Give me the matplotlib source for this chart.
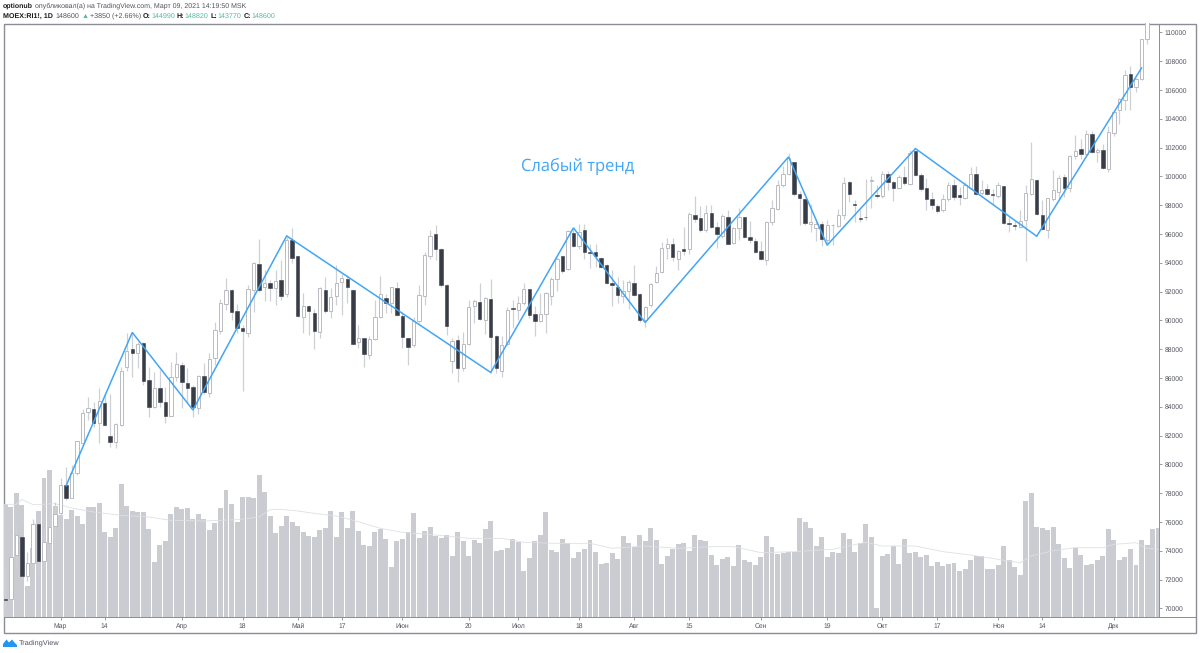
import matplotlib
matplotlib.use('Agg')
import matplotlib.pyplot as plt
from matplotlib.lines import Line2D
from matplotlib.patches import Polygon, Rectangle

# Daily candles, one bar per list entry
opens = [70650, 70630, 73710, 74980, 72270, 73130, 75860, 73310, 74520, 75720,
         76640, 78540, 77640, 79420, 81460, 83610, 83810, 82840, 84280, 81990,
         81570, 82730, 86730, 88000, 87750, 88440, 85850, 83950, 85270, 84350,
         83380, 86080, 86890, 85620, 85340, 83880, 86130, 84920, 87350, 89270,
         91100, 92140, 90660, 89500, 89140, 92100, 93880, 92330, 92600, 92210,
         92790, 91860, 95570, 94480, 90250, 90990, 90480, 89210, 92100, 90640,
         91680, 92630, 92900, 92140, 88510, 88740, 87590, 88670, 90200, 91520,
         91220, 92210, 90290, 88790, 88280, 89970, 91700, 94460, 95960, 94920,
         92440, 87190, 88630, 86660, 88350, 91010, 91290, 90010, 91500, 88930,
         86500, 88330, 90870, 90750, 91170, 92190, 90410, 89920, 90410, 91700,
         92860, 94460, 93530, 96070, 95150, 96260, 94730, 94760, 94360, 93810,
         92580, 92330, 91680, 92030, 92600, 91800, 90010, 91060, 92630, 93370,
         95030, 95310, 94290, 94920, 94940, 97280, 97090, 96260, 97420, 96490,
         95870, 97190, 95400, 96440, 97140, 95800, 95540, 94830, 94220, 96840,
         97760, 99430, 100190, 101000, 98740, 98410, 96720, 96380, 96680, 95610,
         96600, 96540, 97300, 99590, 98060, 97090, 97190, 99680, 98670, 98640,
         100150, 99610, 99170, 99940, 99500, 101770, 100120, 99220, 98390, 97930,
         97650, 98390, 99380, 98690, 98500, 99220, 100150, 98870, 99100, 98800,
         98640, 99310, 96730, 96650, 96490, 97000, 98800, 99710, 97300, 96260,
         98410, 98920, 99920, 99200, 101420, 101930, 101530, 102970, 101700, 101810,
         100540, 103020, 104630, 105330, 107090, 106210, 106790, 109560, 111500, 112500]
highs = [72780, 73940, 75790, 74980, 73940, 76180, 76000, 75490, 77180, 77400,
         79030, 79840, 79950, 81620, 83810, 84650, 84350, 85270, 84920, 84880,
         82840, 86780, 89090, 89090, 88500, 88500, 86780, 86430, 86540, 85390,
         87120, 87820, 87120, 86700, 85500, 86200, 87010, 87700, 89900, 91500,
         92950, 92200, 91120, 89670, 92440, 94060, 95640, 93480, 92790, 93480,
         94180, 95800, 96440, 94500, 91910, 91060, 90820, 92280, 92980, 92210,
         93830, 93250, 93140, 92200, 89670, 88800, 88900, 91400, 93110, 91860,
         92330, 92670, 90590, 88800, 90250, 92440, 94760, 96260, 96610, 95000,
         92500, 88740, 88970, 89210, 91400, 91500, 92600, 91630, 92860, 89000,
         88900, 90900, 91400, 91700, 92600, 92200, 91000, 91910, 92000, 93000,
         94400, 94460, 96300, 96400, 96700, 96700, 95330, 95330, 94400, 93900,
         93500, 93000, 92790, 92800, 93830, 91900, 91000, 92600, 93760, 95450,
         95700, 95700, 94900, 96490, 97500, 98620, 97930, 97990, 98000, 96840,
         97400, 97690, 96500, 97800, 97200, 96910, 95700, 95500, 96900, 98340,
         99730, 100700, 101630, 101000, 98970, 98500, 98060, 96900, 96900, 96950,
         96700, 97760, 99960, 99650, 98340, 97690, 99780, 100000, 99380, 100400,
         100380, 99700, 100100, 100700, 101810, 101850, 100200, 99850, 98900, 98100,
         98800, 99610, 99800, 99270, 99600, 100650, 100700, 99730, 99500, 99100,
         99600, 99350, 97200, 96900, 97650, 99380, 102390, 99800, 98340, 98500,
         100420, 100080, 100190, 101500, 102850, 102620, 103250, 103130, 101950, 102230,
         103480, 104500, 105450, 107360, 107640, 106850, 109550, 112000, 113000, 114000]
lows = [69780, 70300, 72780, 71970, 71930, 72430, 72320, 72780, 73940, 74280,
        76370, 77520, 77640, 79260, 81410, 83070, 82610, 81460, 82660, 81220,
        81110, 82660, 86500, 86040, 86660, 85500, 83310, 83880, 84000, 82840,
        83380, 85800, 83880, 84300, 83310, 83470, 84900, 84690, 86900, 89040,
        90700, 90010, 89090, 85090, 88860, 90590, 92000, 91360, 91360, 91060,
        91400, 91590, 93950, 90200, 89090, 88970, 87980, 88740, 90500, 90130,
        91060, 90360, 91170, 88300, 88050, 86780, 87310, 88630, 90150, 90480,
        90480, 90290, 88050, 86890, 88160, 89780, 91060, 94290, 94180, 92330,
        88970, 86310, 85740, 86480, 88300, 89830, 90010, 89040, 86310, 86310,
        86080, 88300, 89440, 90010, 91060, 90130, 88930, 89900, 89090, 91060,
        92030, 93300, 93500, 95100, 94920, 94290, 93600, 93720, 93600, 92500,
        90990, 91170, 91220, 90820, 91700, 89900, 89550, 90940, 92600, 93300,
        94290, 94130, 93480, 94530, 94640, 96840, 96140, 96140, 96400, 94990,
        95700, 95300, 95300, 95570, 95700, 95380, 94700, 94200, 93830, 96610,
        97650, 99270, 100100, 98600, 96650, 96610, 96140, 95520, 95150, 95220,
        95220, 96500, 97070, 98230, 96840, 96840, 97000, 97830, 98460, 98460,
        99080, 98300, 99100, 99400, 99400, 100000, 99000, 97650, 97760, 97420,
        97500, 98300, 98340, 97990, 98400, 99100, 98700, 98700, 98700, 98110,
        98500, 96700, 96140, 96300, 96380, 94130, 98700, 97300, 96300, 95750,
        98300, 98340, 98570, 98920, 101230, 101230, 101400, 101600, 101000, 100500,
        100310, 102780, 103620, 104630, 104630, 105860, 106700, 109210, 111000, 112000]
closes = [70600, 73590, 75100, 72270, 73180, 75860, 73310, 74630, 75630, 76550,
          78590, 77640, 79370, 81620, 83580, 83880, 82890, 84420, 82730, 81570,
          82800, 86500, 87890, 87750, 88390, 85780, 83950, 85320, 84300, 83350,
          86080, 86940, 85690, 85320, 83950, 86150, 85040, 87280, 89300, 91220,
          92100, 90590, 89480, 89270, 92170, 93950, 92100, 92560, 92210, 92720,
          91700, 95570, 94340, 90290, 91010, 90660, 89250, 92210, 90640, 91630,
          92600, 92950, 92280, 88350, 88790, 87660, 88700, 90200, 91860, 91220,
          92280, 90360, 88830, 88160, 89970, 91750, 94520, 95870, 94940, 92420,
          89620, 88560, 86710, 88350, 90940, 91360, 90060, 91560, 88860, 86660,
          88280, 90750, 90780, 91170, 92190, 90360, 89950, 90410, 91930, 92880,
          94290, 93410, 96190, 95150, 96140, 94710, 94690, 94480, 93720, 92600,
          92420, 91750, 92050, 92670, 91730, 90010, 90940, 92510, 93320, 94990,
          95330, 94410, 94820, 94830, 97370, 97020, 96260, 97420, 96510, 95960,
          97230, 95330, 96400, 97190, 95800, 95570, 94730, 94270, 96860, 97810,
          99380, 100190, 101300, 98740, 98460, 96790, 96860, 96680, 95660, 96650,
          96610, 97300, 99570, 98760, 98020, 97050, 97140, 99730, 98620, 100150,
          99610, 99170, 99920, 99550, 101630, 100080, 99130, 98410, 98020, 97580,
          98390, 99380, 98570, 98570, 99380, 100150, 98800, 99080, 98800, 98670,
          99380, 96770, 96700, 96560, 96910, 98870, 99800, 97350, 96330, 98460,
          99080, 99890, 99220, 101420, 101790, 101560, 102970, 101700, 101860, 100590,
          103090, 104470, 105400, 107060, 106210, 106790, 109520, 111500, 112500, 113500]

# Volume pane has no scale in the picture, so these are relative heights
volumes = [340, 330, 373, 335, 92, 208, 318, 418, 442, 332,
           305, 293, 322, 302, 278, 329, 331, 341, 255, 241,
           267, 399, 334, 318, 315, 316, 265, 165, 216, 229,
           310, 329, 323, 326, 294, 309, 295, 260, 282, 326,
           382, 338, 284, 359, 360, 356, 425, 376, 303, 253,
           272, 304, 284, 273, 255, 243, 239, 261, 266, 319,
           241, 315, 266, 317, 257, 216, 212, 254, 265, 234,
           150, 229, 234, 254, 313, 236, 258, 269, 244, 237,
           246, 183, 256, 228, 183, 231, 223, 265, 288, 198,
           201, 208, 234, 226, 138, 176, 229, 246, 314, 200,
           195, 235, 222, 177, 194, 203, 231, 196, 160, 163,
           191, 175, 243, 222, 209, 246, 228, 268, 231, 159,
           184, 204, 219, 221, 198, 246, 230, 228, 186, 156,
           175, 181, 154, 216, 171, 165, 155, 180, 242, 209,
           189, 191, 194, 194, 297, 285, 267, 213, 239, 179,
           195, 192, 251, 234, 194, 221, 279, 239, 27, 183,
           188, 213, 158, 234, 193, 195, 180, 186, 154, 165,
           153, 160, 161, 137, 143, 171, 184, 184, 143, 143,
           156, 213, 171, 150, 126, 348, 371, 271, 266, 261,
           269, 219, 178, 147, 207, 187, 156, 158, 170, 184,
           263, 230, 170, 180, 203, 157, 230, 216, 265, 266]

# Faint average line over the volume bars
vol_ma_bars = [0, 2, 3, 5, 9, 12, 16, 21, 26, 30, 36, 42, 46, 48, 50, 53, 56, 60, 64, 68,
               72, 78, 84, 90, 94, 100, 106, 110, 116, 122, 128, 132, 137, 143, 150, 156,
               159, 165, 170, 175, 180, 184, 186, 190, 194, 199, 201, 205, 207, 209]
vol_ma = [338, 338, 353, 337, 340, 327, 315, 305, 300, 290, 288, 292, 300, 322, 323, 318, 311, 303, 286, 266,
          254, 246, 236, 236, 224, 221, 221, 206, 213, 206, 211, 211, 193, 196, 203, 224,
          213, 213, 196, 186, 173, 163, 183, 199, 208, 208, 218, 223, 206, 203]

# Blue zigzag drawn by the author
zig_bars = [11, 23, 34, 51, 88, 103, 116, 142, 149, 165, 187, 206]
zig_prices = [78510, 89160, 83770, 95860, 86380, 96420, 89850, 101350, 95220, 101930, 95840, 107520]

price_ticks = list(range(70000, 110001, 2000))
time_ticks = [10, 18, 32, 43, 53, 61, 72, 84, 93, 104, 114, 124, 137, 149, 159, 169, 180, 188, 201]
time_labels = ['Мар', '14', 'Апр', '18', 'Май', '17', 'Июн', '20', 'Июл', '18', 'Авг', '15',
               'Сен', '19', 'Окт', '17', 'Ноя', '14', 'Дек']

W, H = 1200, 653
TEXT = '#50535e'
BLUE = '#42a5f5'
TEAL = '#53b9a9'
BORDER = '#8a8d96'
DARK = '#1a1a1a'

plt.rcParams['font.family'] = ['Liberation Sans', 'DejaVu Sans']
plt.rcParams['text.hinting'] = 'no_hinting'

fig = plt.figure(figsize=(W / 100, H / 100), dpi=100, facecolor='white')


def px_box(x0, y0, x1, y1):
    return [x0 / W, 1 - y1 / H, (x1 - x0) / W, (y1 - y0) / H]


box = px_box(3.5, 23.5, 1159, 617)

# Volume pane sits behind the candles
ax_vol = fig.add_axes(box, zorder=1)
ax_vol.set_xlim(-0.345, 209.17)
ax_vol.set_ylim(0, (617 - 23.5) * 3)
ax_vol.bar(range(len(volumes)), volumes, width=0.9, color='#cbccd2', linewidth=0)
ax_vol.plot(vol_ma_bars, vol_ma, color='#dfe0e4', linewidth=0.6)
ax_vol.axis('off')

ax = fig.add_axes(box, zorder=2)
ax.patch.set_alpha(0)
ax.set_xlim(-0.345, 209.17)
ax.set_ylim(69399, 110611)

for i in range(len(opens)):
    up = closes[i] >= opens[i]
    ax.vlines(i, lows[i], highs[i], color='#cfd0d5', linewidth=0.9, zorder=2)
    bottom = min(opens[i], closes[i])
    height = max(abs(closes[i] - opens[i]), 40)
    if up:
        ax.bar(i, height, bottom=bottom, width=0.6, color='white', edgecolor='#b9bbc1', linewidth=0.7, zorder=3)
    else:
        ax.bar(i, height, bottom=bottom, width=0.62, color='#383c47', edgecolor='#383c47', linewidth=0.4, zorder=3)

ax.plot(zig_bars, zig_prices, color=BLUE, linewidth=1.1, zorder=4, solid_joinstyle='miter')

ax.yaxis.tick_right()
ax.set_yticks(price_ticks)
ax.set_xticks(time_ticks)
ax.set_xticklabels(time_labels)
ax.tick_params(axis='y', length=2.5, width=0.6, color=BORDER, labelsize=4.9, labelcolor=TEXT, pad=1.8)
ax.tick_params(axis='x', length=2.5, width=0.6, color=BORDER, labelsize=4.9, labelcolor=TEXT, pad=2)
for side in ['left', 'top']:
    ax.spines[side].set_visible(False)
for side in ['right', 'bottom']:
    ax.spines[side].set_color(BORDER)
    ax.spines[side].set_linewidth(0.7)

# Outer frame and the axis line running on under the price scale
fig.add_artist(Rectangle((3.5 / W, 1 - 632.7 / H), (1196 - 3.5) / W, (632.7 - 23.5) / H, fill=False,
                         edgecolor=BORDER, linewidth=1.0, transform=fig.transFigure))
fig.add_artist(Line2D([1159 / W, 1196 / W], [1 - 617 / H, 1 - 617 / H], color=BORDER, linewidth=0.7))

fig.text(521 / W, 1 - 166 / H, 'Слабый тренд', color=BLUE, fontsize=11.9, va='center', ha='left',
         family=['Open Sans', 'DejaVu Sans'])


def text_run(x, y, parts, size):
    """Write pieces of text one after another on a line, x and y in pixels"""
    renderer = fig.canvas.get_renderer()
    for s, color, weight, gap in parts:
        t = fig.text(x / W, 1 - y / H, s, color=color, fontweight=weight, fontsize=size, va='center', ha='left')
        x = t.get_window_extent(renderer).x1 + gap


text_run(3, 6, [('optionub', DARK, 'bold', 1.8),
                ('опубликовал(а) на TradingView.com, Март 09, 2021 14:19:50 MSK', TEXT, 'normal', 0)], 5.05)
text_run(3, 16, [('MOEX:RI1!, 1D', DARK, 'bold', 3),
                 ('148600', TEXT, 'normal', 1.5), ('▲', TEAL, 'normal', 1.5),
                 ('+3850 (+2.66%)', TEXT, 'normal', 2),
                 ('O:', DARK, 'bold', 0.3), ('144990', TEAL, 'normal', 2),
                 ('H:', DARK, 'bold', 0.3), ('148820', TEAL, 'normal', 2),
                 ('L:', DARK, 'bold', 0.3), ('143770', TEAL, 'normal', 2),
                 ('C:', DARK, 'bold', 0.3), ('148600', TEAL, 'normal', 0)], 5.1)

# TradingView logo and name in the footer
logo_x = [3, 3, 6.5, 9, 12, 14, 17, 17]
logo_y = [647, 644, 639.5, 642.5, 639.5, 642, 645, 647]
fig.add_artist(Polygon([(x / W, 1 - y / H) for x, y in zip(logo_x, logo_y)], closed=True,
                       facecolor='#2196f3', edgecolor='none', transform=fig.transFigure))
fig.text(18.5 / W, 1 - 643 / H, 'TradingView', color=TEXT, fontsize=5.3, va='center', ha='left')

fig.savefig('out.png', dpi=100)
